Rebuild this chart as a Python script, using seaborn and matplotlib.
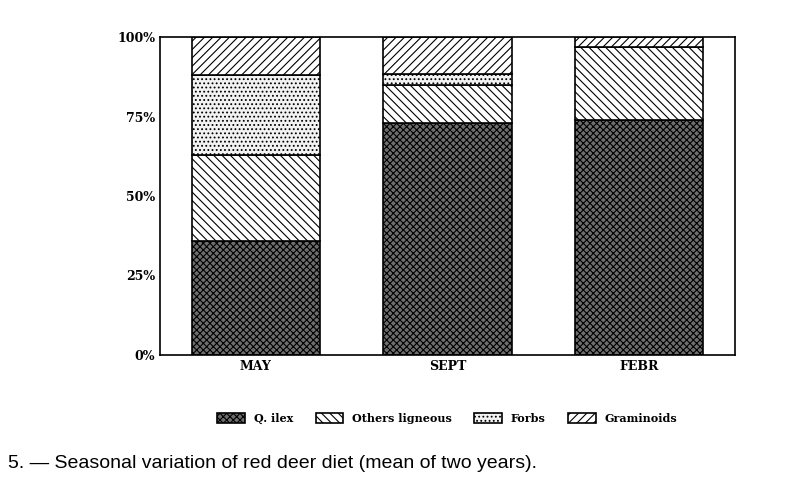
import matplotlib
matplotlib.use("Agg")
import matplotlib.pyplot as plt
import seaborn as sns
import pandas as pd
import numpy as np

seasons = ["MAY", "SEPT", "FEBR"]
components = ["Q. ilex", "Others ligneous", "Forbs", "Graminoids"]
q_ilex = [36, 73, 74]
others_ligneous = [27, 12, 23]
forbs = [25, 3.5, 0]
graminoids = [12, 11.5, 3]
yticks = [0, 25, 50, 75, 100]
ytick_labels = ["0%", "25%", "50%", "75%", "100%"]

values = [q_ilex, others_ligneous, forbs, graminoids]
hatches = ["xxxxx", "\\\\\\\\", "....", "////"]
faces = ["#6e6e6e", "white", "#f2f2f2", "white"]

plt.rcParams["hatch.linewidth"] = 0.8
fig = plt.figure(figsize=(8.08, 4.98), dpi=100)
ax = fig.add_axes([160/808, 1-355/498, 575/808, 318/498])
bottom = np.zeros(3)
for comp, vals, h, fc in zip(components, values, hatches, faces):
    df = pd.DataFrame({"season": seasons, "v": vals})
    sns.barplot(data=df, x="season", y="v", ax=ax, color=fc, width=0.67,
                bottom=bottom, edgecolor="black", linewidth=1.2, hatch=h,
                label=comp, saturation=1)
    bottom += np.array(vals)
ax.set_ylim(0, 100)
ax.set_xlim(-0.5, 2.5)
ax.set_yticks(yticks)
ax.set_yticklabels(ytick_labels, fontfamily="DejaVu Serif", fontweight="bold", fontsize=9)
ax.set_xticklabels(seasons, fontfamily="DejaVu Serif", fontweight="bold", fontsize=9)
ax.set_xlabel(""); ax.set_ylabel("")
ax.tick_params(length=0)
for s in ax.spines.values():
    s.set_linewidth(1.2)
ax.legend(loc="upper center", bbox_to_anchor=(0.5, -0.15), ncol=4, frameon=False,
          prop={"family": "DejaVu Serif", "weight": "bold", "size": 8},
          handlelength=2.5, handleheight=1.0, columnspacing=2.0)
fig.text(0.01, 1-463/498, "5. — Seasonal variation of red deer diet (mean of two years).",
         fontsize=14, fontfamily="Liberation Sans", va="center")
fig.savefig("out.png", dpi=100)
